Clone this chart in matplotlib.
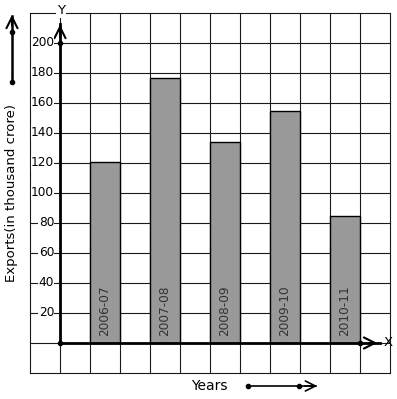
import matplotlib
matplotlib.use("Agg")
import matplotlib.pyplot as plt
import numpy as np

years = ["2006-07", "2007-08", "2008-09", "2009-10", "2010-11"]
exports = [121, 177, 134, 155, 85]
y_ticks = [20, 40, 60, 80, 100, 120, 140, 160, 180, 200]

# one grid cell = 30 px across, 20 units (30 px) up; origin at pixel (60, 343)
fig = plt.figure(figsize=(3.97, 3.99), dpi=100)
ax = fig.add_axes([0, 0, 1, 1])
ax.set_xlim(-2, 337 / 30)
ax.set_ylim(-56 / 1.5, 343 / 1.5)
ax.axis("off")

# grid
for gx in range(-1, 12):
    ax.plot([gx, gx], [-20, 220], color="#1a1a1a", lw=0.8, zorder=1)
for gy in range(-20, 221, 20):
    ax.plot([-1, 11], [gy, gy], color="#1a1a1a", lw=0.8, zorder=1)

# bars
xs = np.arange(len(years)) * 2 + 1.5
ax.bar(xs, exports, width=1, color="#999999", edgecolor="black", lw=1, zorder=2)
for x, lab in zip(xs, years):
    ax.text(x, 5, lab, rotation=90, ha="center", va="bottom", fontsize=8.7,
            color="#333333", zorder=3)

arrow = dict(arrowstyle="->", lw=1.5, color="black", mutation_scale=20)

# axes with arrows
ax.plot([0, 10.67], [0, 0], color="black", lw=2, zorder=4)
ax.annotate("", xy=(10.67, 0), xytext=(10.2, 0), arrowprops=arrow, zorder=5)
ax.plot([0, 0], [0, 213], color="black", lw=2, zorder=4)
ax.annotate("", xy=(0, 214), xytext=(0, 202), arrowprops=arrow, zorder=5)
ax.plot([0, 0, 10], [0, 200, 0], "o", color="black", ms=3, zorder=5)

ax.text(10.93, 0, "X", ha="center", va="center", fontsize=9.5, zorder=6)
ax.text(0.03, 221.5, "Y", ha="center", va="center", fontsize=9.5, zorder=6,
        bbox=dict(facecolor="white", edgecolor="none", pad=0.5))

for t in y_ticks:
    ax.text(-0.2, t, str(t), ha="right", va="center", fontsize=8.7, zorder=6,
            bbox=dict(facecolor="white", edgecolor="none", pad=0.3))

ax.text(-1.6, (343 - 193) / 1.5, "Exports(in thousand crore)", rotation=90,
        ha="center", va="center", fontsize=9.5)

# side arrow next to y label
ax.plot([-1.6, -1.6], [(343 - 82) / 1.5, (343 - 16) / 1.5], color="black", lw=1.8)
ax.annotate("", xy=(-1.6, (343 - 12) / 1.5), xytext=(-1.6, (343 - 28) / 1.5), arrowprops=arrow)
ax.plot([-1.6, -1.6], [(343 - 32) / 1.5, (343 - 82) / 1.5], "o", color="black", ms=3)

ax.text(209.5 / 30 - 2, (343 - 386) / 1.5, "Years", ha="center", va="center", fontsize=10)
ax.plot([248 / 30 - 2, 316 / 30 - 2], [(343 - 386) / 1.5] * 2, color="black", lw=1.2)
ax.annotate("", xy=(320 / 30 - 2, (343 - 386) / 1.5), xytext=(302 / 30 - 2, (343 - 386) / 1.5),
            arrowprops=dict(arrowstyle="->", lw=1.2, color="black", mutation_scale=18))
ax.plot([248 / 30 - 2, 299 / 30 - 2], [(343 - 386) / 1.5] * 2, "o", color="black", ms=3)

fig.savefig("out.png", dpi=100)
